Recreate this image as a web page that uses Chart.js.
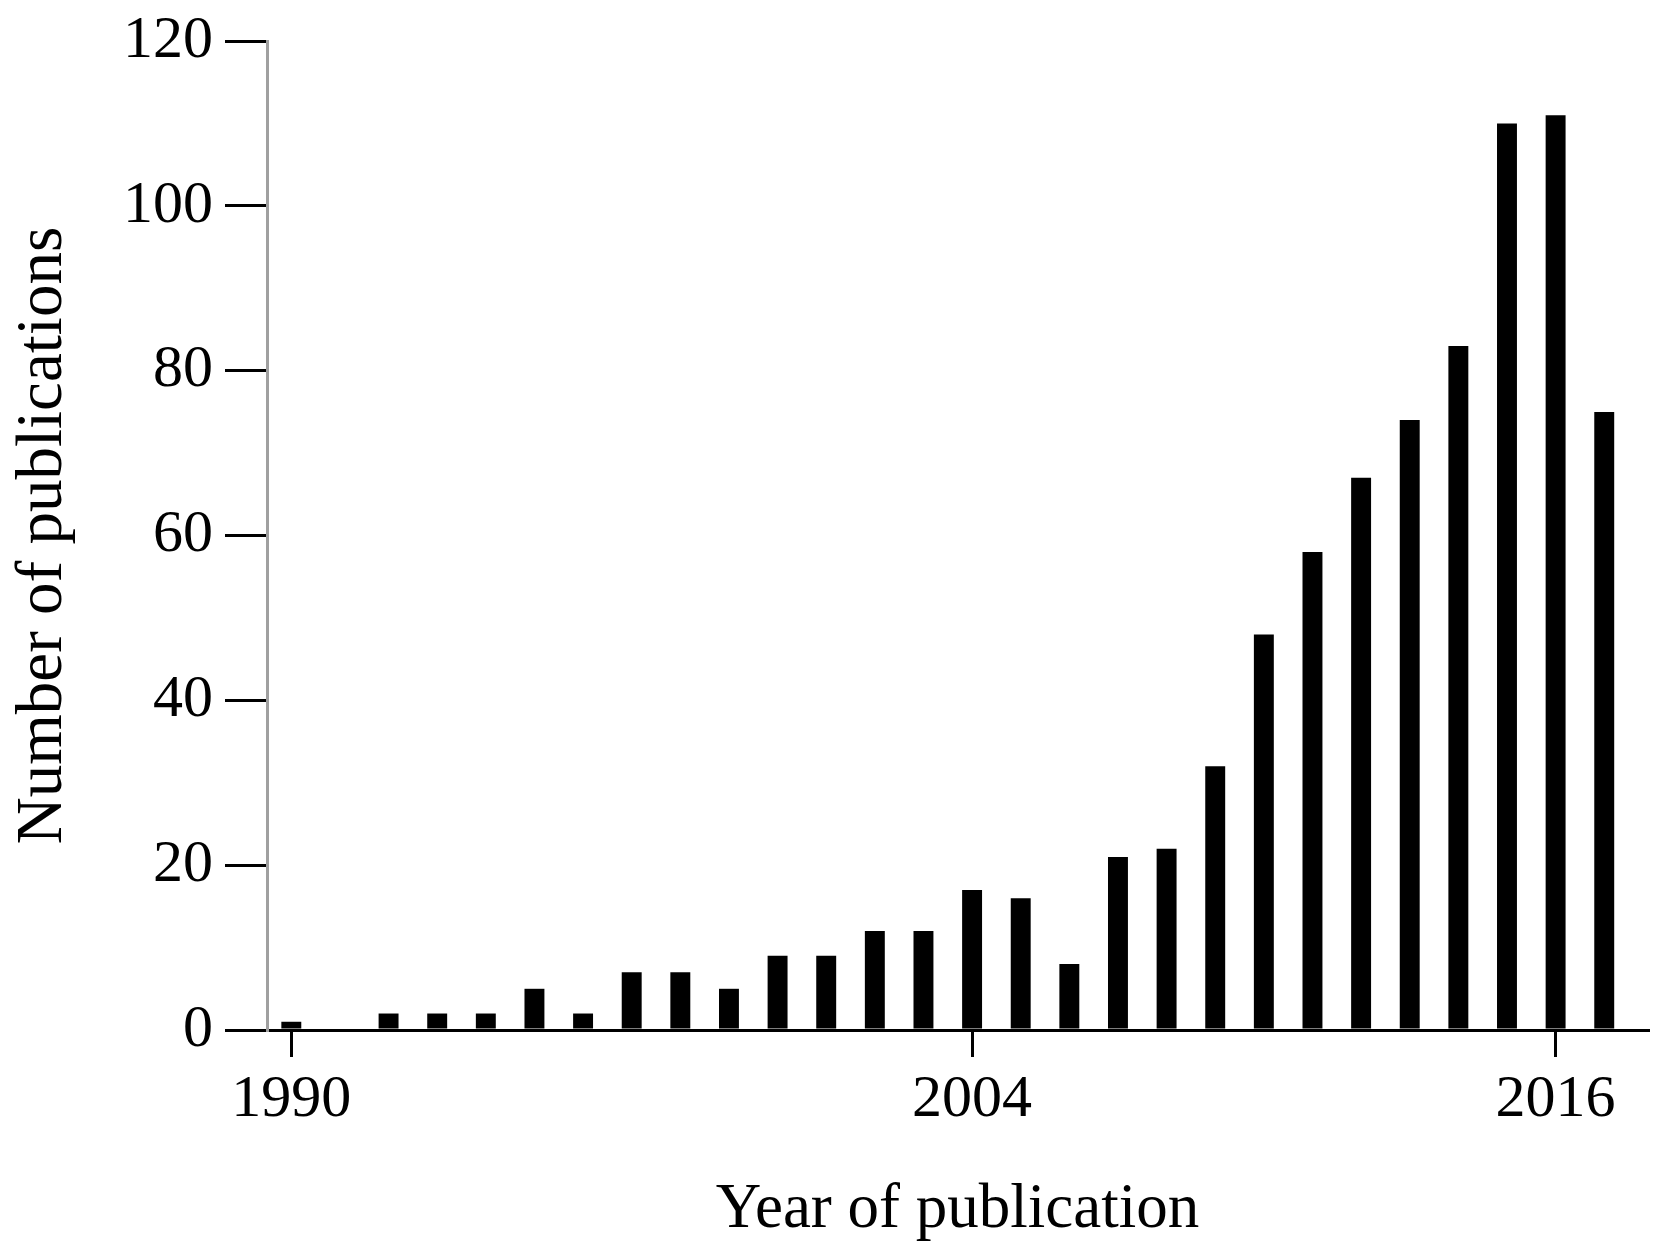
<!DOCTYPE html>
<html>
<head>
<meta charset="utf-8">
<script src="https://cdn.jsdelivr.net/npm/chart.js@4"></script>
<style>
  html, body { margin: 0; padding: 0; background: #fff; }
  canvas { display: block; }
</style>
</head>
<body>
<canvas id="graph" width="1661" height="1252"></canvas>
<script>
// Years and number of publications per year
const years = [1990, 1991, 1992, 1993, 1994, 1995, 1996, 1997, 1998, 1999,
               2000, 2001, 2002, 2003, 2004, 2005, 2006, 2007, 2008, 2009,
               2010, 2011, 2012, 2013, 2014, 2015, 2016, 2017];
const publications = [1, 0, 2, 2, 2, 5, 2, 7, 7, 5,
                      9, 9, 12, 12, 17, 16, 8, 21, 22, 32,
                      48, 58, 67, 74, 83, 110, 111, 75];

// Labelled ticks on both axes
const xTicks = [1990, 2004, 2016];
const yTicks = [0, 20, 40, 60, 80, 100, 120];

Chart.defaults.font.family = "'Liberation Serif', serif";
Chart.defaults.color = '#000';

const ctx = document.getElementById('graph').getContext('2d');

const chart = new Chart(ctx, {
    type: 'bar',
    data: {
        labels: years,
        datasets: [{
            data: publications,
            backgroundColor: '#000',
            borderWidth: 0,
            barPercentage: 0.41,
            categoryPercentage: 1.0
        }]
    },
    options: {
        responsive: false,
        animation: false,
        layout: {
            padding: { top: 41, right: 13, bottom: 0, left: 0 }
        },
        plugins: {
            legend: { display: false },
            tooltip: { enabled: false }
        },
        scales: {
            x: {
                type: 'linear',
                min: 1989.5,
                max: 2017.9,
                offset: false,
                afterBuildTicks: scale => {
                    scale.ticks = xTicks.map(v => ({ value: v }));
                },
                afterFit: scale => { scale.height = 222; },
                grid: {
                    drawOnChartArea: false,
                    offset: false,
                    tickLength: 27,
                    lineWidth: 3,
                    color: '#000'
                },
                border: { color: '#000', width: 3 },
                ticks: {
                    padding: 7,
                    maxRotation: 0,
                    font: { size: 60 },
                    callback: v => String(v)
                },
                title: {
                    display: true,
                    text: 'Year of publication',
                    font: { size: 63 },
                    padding: { top: 0, bottom: 4 }
                }
            },
            y: {
                min: 0,
                max: 120,
                afterBuildTicks: scale => {
                    scale.ticks = yTicks.map(v => ({ value: v }));
                },
                // fixed axis width, and no extra room asked for the top label
                afterFit: scale => {
                    scale.width = 267;
                    scale.paddingTop = 0;
                    scale.paddingBottom = 0;
                },
                grid: {
                    drawOnChartArea: false,
                    tickLength: 42,
                    lineWidth: 3,
                    color: '#000'
                },
                border: { color: '#a0a0a0', width: 3 },
                ticks: {
                    padding: 12,
                    font: { size: 60 }
                },
                title: {
                    display: true,
                    text: 'Number of publications',
                    font: { size: 65 },
                    padding: { top: 5, bottom: 0 }
                }
            }
        }
    }
});
</script>
</body>
</html>
